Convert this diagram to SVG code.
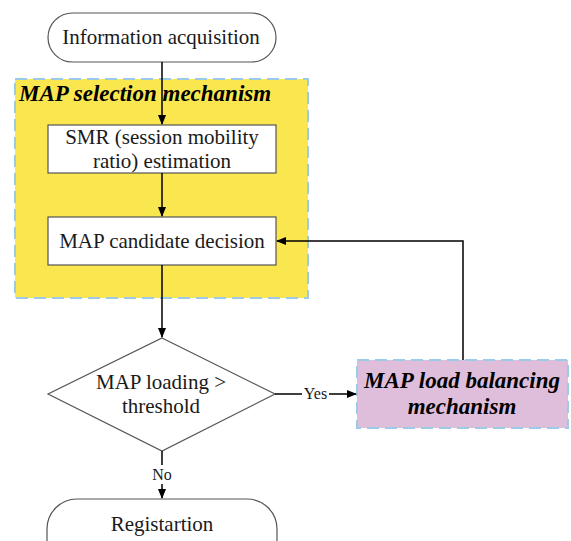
<svg xmlns="http://www.w3.org/2000/svg" width="571" height="541" viewBox="0 0 571 541">
<defs>
<marker id="ah" markerWidth="10" markerHeight="8" refX="9" refY="4" orient="auto" markerUnits="userSpaceOnUse">
<path d="M0,0 L10,4 L0,8 Z" fill="#000"/>
</marker>
<style>
text{font-family:"Liberation Serif","Times New Roman",serif;fill:#1a1a1a;text-anchor:middle}
.n{font-size:21px}
.t{font-size:23px;font-weight:bold;font-style:italic;fill:#000}
.box{fill:#fff;stroke:#555;stroke-width:1.2}
.grp{stroke:#9ccbe8;stroke-width:2;stroke-dasharray:12,6}
.c{fill:none;stroke:#000;stroke-width:1.5}
.lbl{font-size:16px}
</style>
</defs>
<rect width="571" height="541" fill="#fff"/>
<g id="sel-group">
<rect x="15" y="79" width="293" height="219" fill="#fae64e" class="grp"/>
<text class="t" x="19" y="101" style="text-anchor:start">MAP selection mechanism</text>
</g>
<g id="start">
<rect x="48" y="13" width="228" height="49" rx="24.5" class="box"/>
<text class="n" x="161" y="44">Information acquisition</text>
</g>
<g id="smr">
<rect x="48" y="125" width="228" height="48" class="box"/>
<text class="n" x="162" y="144">SMR (session mobility</text>
<text class="n" x="162" y="168">ratio) estimation</text>
</g>
<g id="candidate">
<rect x="48" y="217" width="228" height="48" class="box"/>
<text class="n" x="162" y="248">MAP candidate decision</text>
</g>
<g id="decision">
<polygon points="162,338 275,394 162,451 48,394" class="box"/>
<text class="n" x="161" y="389">MAP loading &gt;</text>
<text class="n" x="161" y="413">threshold</text>
</g>
<g id="balance">
<rect x="357" y="360" width="211" height="68" fill="#dfbedb" class="grp"/>
<text class="t" x="462" y="388">MAP load balancing</text>
<text class="t" x="462" y="414">mechanism</text>
</g>
<g id="end">
<rect x="47" y="499" width="230" height="70" rx="30" class="box"/>
<text class="n" x="162" y="531">Registartion</text>
</g>
<g id="connectors">
<path class="c" d="M162,62 V124" marker-end="url(#ah)"/>
<path class="c" d="M162,173 V216" marker-end="url(#ah)"/>
<path class="c" d="M162,265 V337" marker-end="url(#ah)"/>
<path class="c" d="M275,394 H302 M329,394 H356" marker-end="url(#ah)"/>
<text class="lbl" x="315.5" y="399">Yes</text>
<path class="c" d="M463,360 V241 H277" marker-end="url(#ah)"/>
<path class="c" d="M162,451 V465 M162,484 V498" marker-end="url(#ah)"/>
<text class="lbl" x="162" y="480">No</text>
</g>
</svg>
